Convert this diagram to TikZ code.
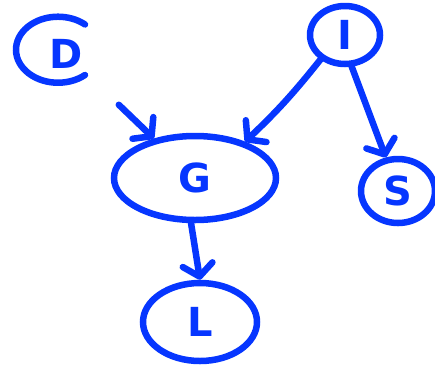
\documentclass[tikz,border=0pt]{standalone}
\usepackage{fontspec}
\setsansfont{DejaVu Sans}
\usetikzlibrary{arrows.meta,shapes.geometric}
\definecolor{pen}{HTML}{0636FF}

\begin{document}
\begin{tikzpicture}[x=1pt,y=-1pt]
\tikzstyle{every node}+=[inner sep=0pt]
\tikzstyle{var}=[ellipse,draw=pen,line width=6.5pt,text=pen,font=\sffamily\bfseries\fontsize{40}{40}\selectfont]
\tikzstyle{edge}=[draw=pen,line width=6.5pt,line cap=round,-{Straight Barb[length=12pt,width=30pt,round]}]
\useasboundingbox (0,0) rectangle (435,365);
\node [var,draw=none] (D) at (66,54) {D};
\draw [pen,line width=6.5pt,line cap=round] ([shift={(19,21)}]D.center) arc[start angle=50,end angle=310,x radius=42,y radius=33];
\node [var,minimum width=70pt,minimum height=58pt] (I) at (345,35) {I};
\node [var,minimum width=162pt,minimum height=84pt] (G) at (195,178) {G};
\node [var,minimum width=74pt,minimum height=64pt] (S) at (398,191) {S};
\node [var,minimum width=114pt,minimum height=78pt] (L) at (200,322) {L};
\draw [edge,shorten <=48pt] (D) -- (G);
\draw [edge] (I.225) to[bend left=4] (G.36);
\draw [edge] (I.282) -- (S.110);
\draw [edge] (G.265) -- (L.north);
\end{tikzpicture}
\end{document}
